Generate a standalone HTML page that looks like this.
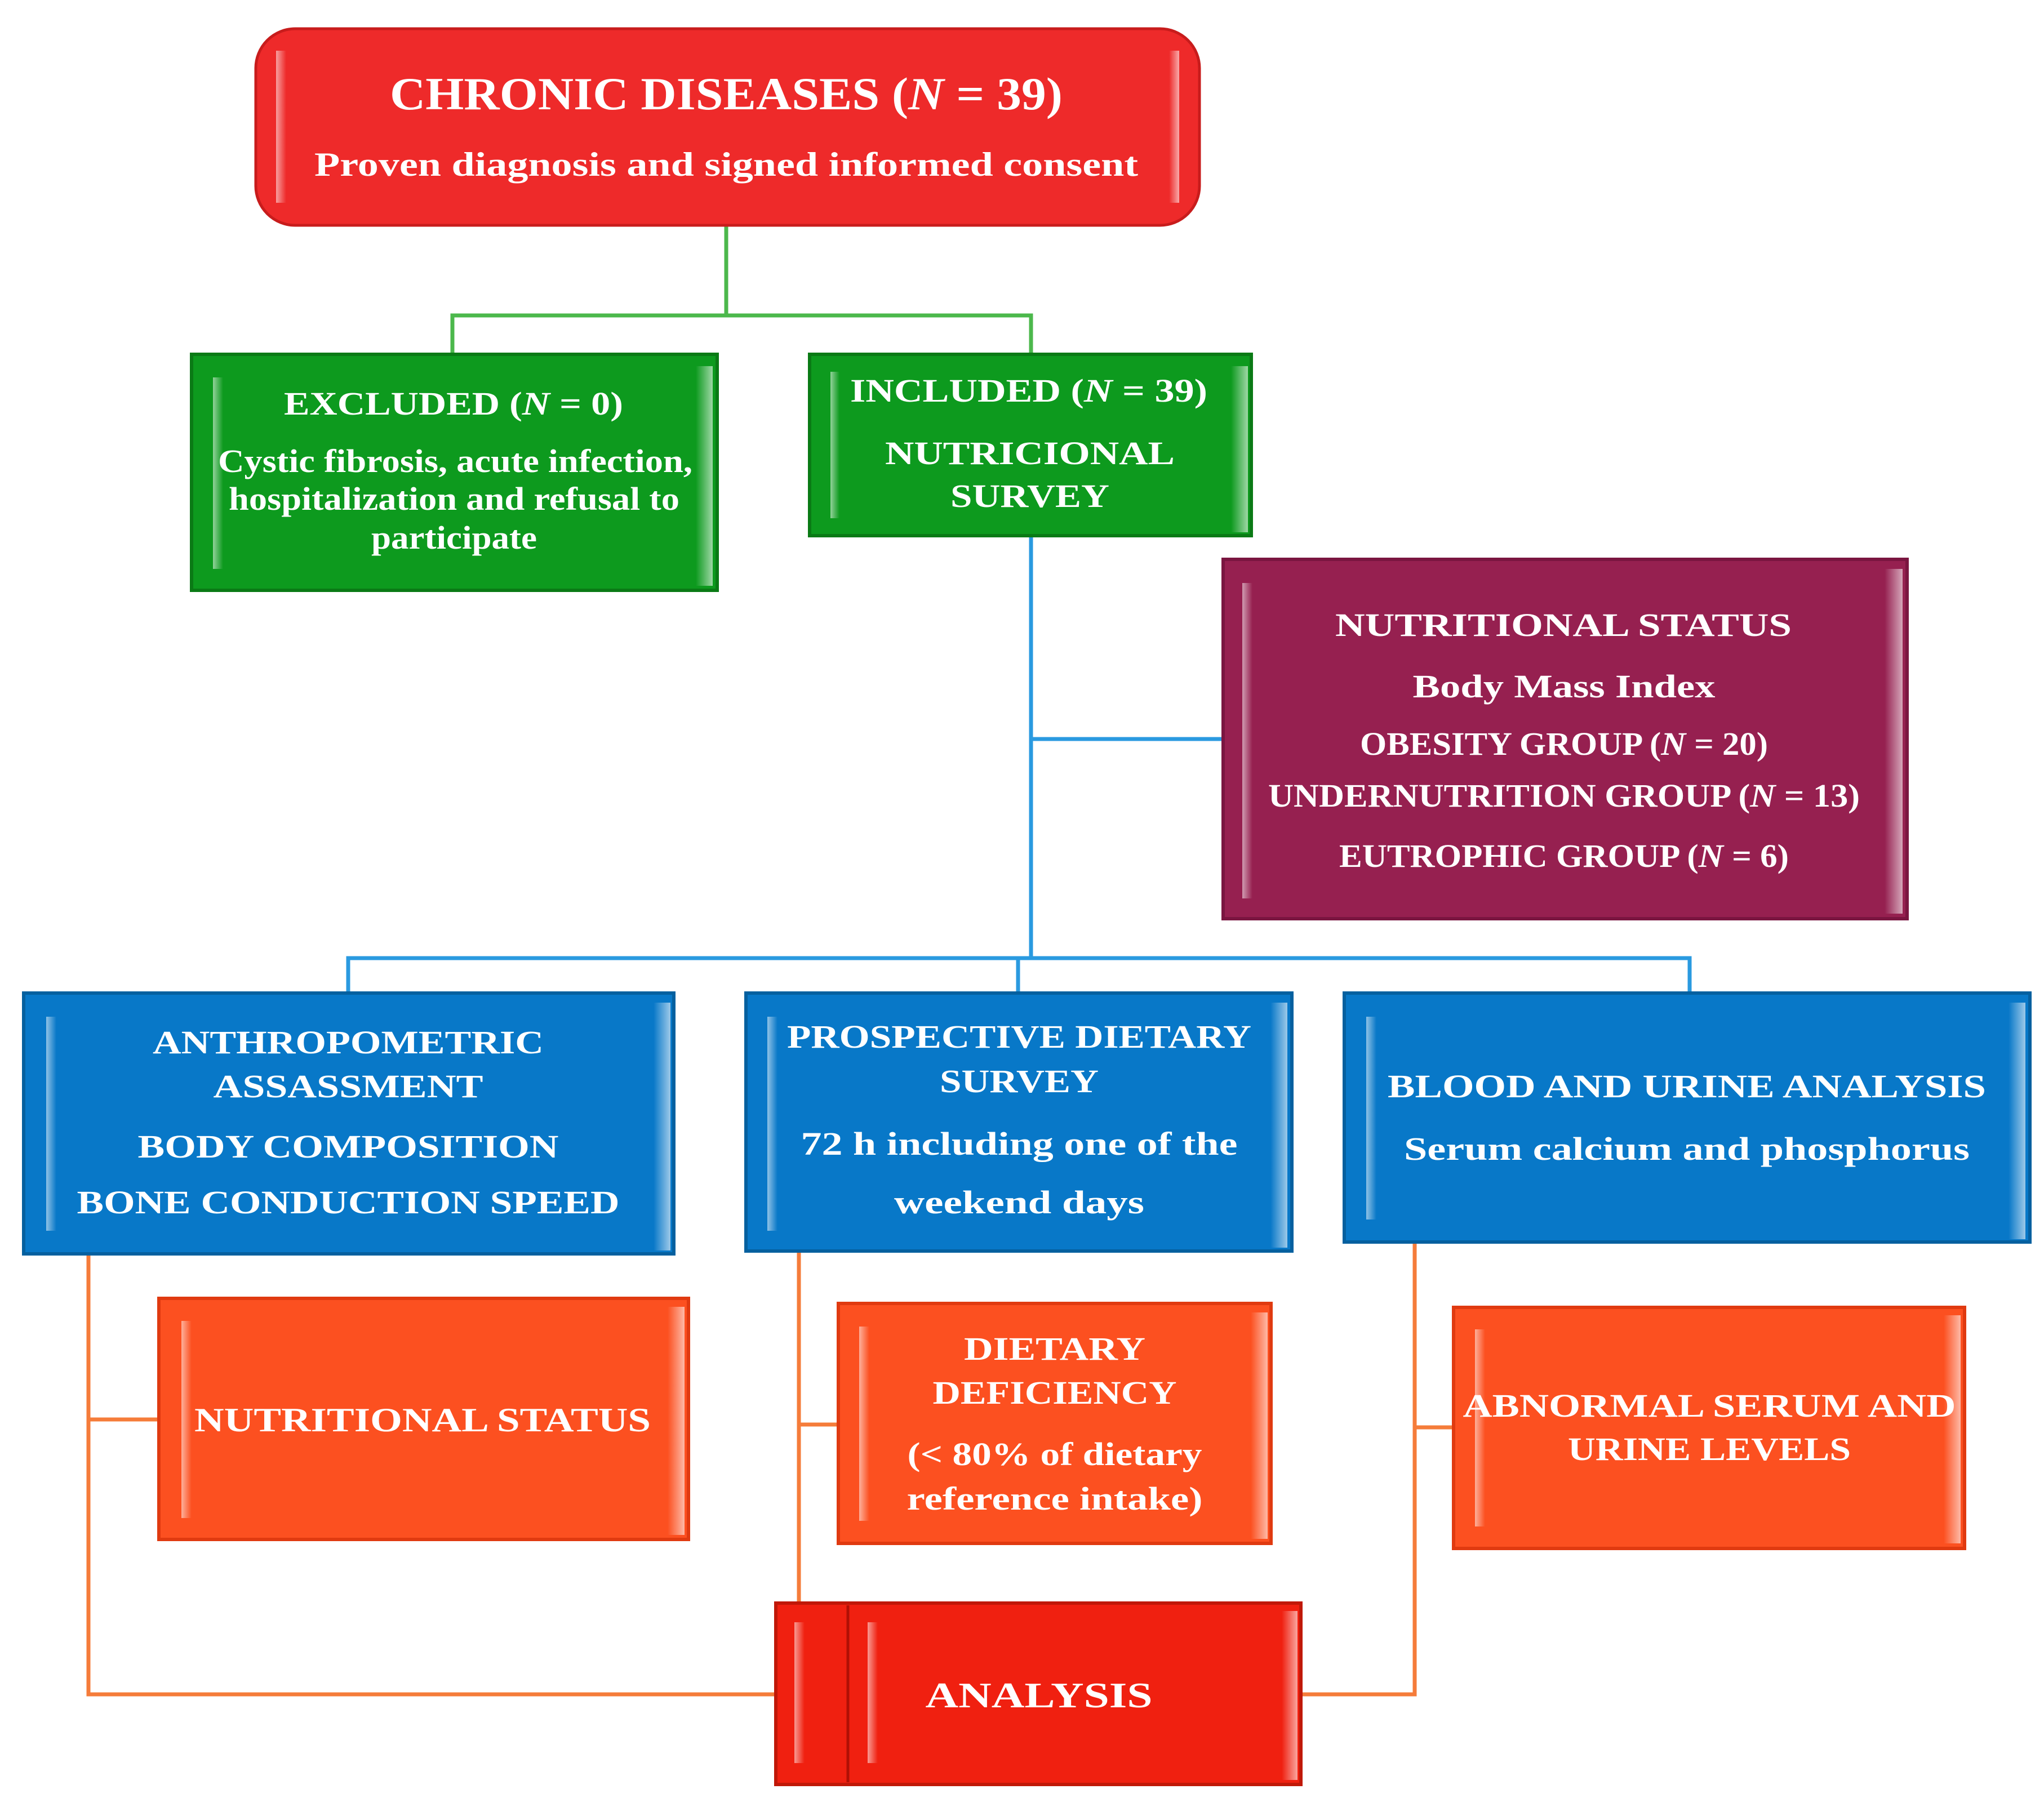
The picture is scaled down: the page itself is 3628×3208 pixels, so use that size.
<!DOCTYPE html>
<html><head><meta charset="utf-8"><style>
html,body{margin:0;padding:0;background:#fff}
svg{display:block}
text{font-family:"Liberation Serif",serif;font-weight:bold;fill:#fff;text-anchor:middle}
</style></head><body>
<svg width="3628" height="3208" viewBox="0 0 3628 3208" xmlns="http://www.w3.org/2000/svg">
<defs>
<linearGradient id="bevL" x1="0" x2="1" y1="0" y2="0"><stop offset="0" stop-color="#fff" stop-opacity="0.55"/><stop offset="1" stop-color="#fff" stop-opacity="0"/></linearGradient>
<linearGradient id="bevR" x1="1" x2="0" y1="0" y2="0"><stop offset="0" stop-color="#fff" stop-opacity="0.6"/><stop offset="1" stop-color="#fff" stop-opacity="0"/></linearGradient>
</defs>

<!-- connectors -->
<g fill="none" stroke-width="7">
<path d="M1289 400 V560 M803 629 V560 H1830 V629" stroke="#4cb84c"/>
<path d="M1830 951 V1701 M1830 1312 H2171 M618 1763 V1701 H2999 V1763 M1807 1701 V1763" stroke="#2a9ae0"/>
<path d="M157 2226 V3008 H1377 M157 2520 H282 M1418 2221 V2846 M1418 2529 H1488 M2511 2205 V3008 H2309 M2511 2534 H2580" stroke="#f57c3a"/>
</g>

<!-- top red -->
<rect x="454" y="51" width="1675" height="349" rx="70" fill="#ee2a2a" stroke="#c81c1c" stroke-width="5"/>
<rect x="490" y="90" width="18" height="270" fill="url(#bevL)"/>
<rect x="2075" y="90" width="18" height="270" fill="url(#bevR)"/>

<!-- boxes -->
<g stroke-width="6">
<rect x="340" y="629" width="933" height="419" fill="#0d9a1e" stroke="#0a7a15"/>
<rect x="1437" y="629" width="784" height="322" fill="#0d9a1e" stroke="#0a7a15"/>
<rect x="2171" y="993" width="1214" height="638" fill="#962050" stroke="#7a1540"/>
<rect x="42" y="1763" width="1154" height="463" fill="#0878c8" stroke="#05609f"/>
<rect x="1324" y="1763" width="969" height="458" fill="#0878c8" stroke="#05609f"/>
<rect x="2386" y="1763" width="1217" height="442" fill="#0878c8" stroke="#05609f"/>
<rect x="282" y="2305" width="940" height="428" fill="#fc5020" stroke="#e03a10"/>
<rect x="1488" y="2314" width="768" height="426" fill="#fc5020" stroke="#e03a10"/>
<rect x="2580" y="2321" width="907" height="428" fill="#fc5020" stroke="#e03a10"/>
<rect x="1377" y="2846" width="932" height="322" fill="#f02010" stroke="#c01808"/>
</g>
<line x1="1505" y1="2850" x2="1505" y2="3164" stroke="#b01005" stroke-width="5"/>

<!-- bevels -->
<g>
<rect x="378" y="670" width="18" height="340" fill="url(#bevL)"/><rect x="1235" y="650" width="30" height="390" fill="url(#bevR)"/>
<rect x="1474" y="660" width="16" height="260" fill="url(#bevL)"/><rect x="2185" y="650" width="30" height="295" fill="url(#bevR)"/>
<rect x="2205" y="1035" width="18" height="560" fill="url(#bevL)"/><rect x="3345" y="1010" width="32" height="612" fill="url(#bevR)"/>
<rect x="82" y="1805" width="18" height="380" fill="url(#bevL)"/><rect x="1160" y="1780" width="30" height="440" fill="url(#bevR)"/>
<rect x="1362" y="1805" width="18" height="380" fill="url(#bevL)"/><rect x="2255" y="1780" width="30" height="435" fill="url(#bevR)"/>
<rect x="2425" y="1805" width="18" height="360" fill="url(#bevL)"/><rect x="3565" y="1780" width="30" height="420" fill="url(#bevR)"/>
<rect x="322" y="2345" width="18" height="350" fill="url(#bevL)"/><rect x="1185" y="2320" width="30" height="405" fill="url(#bevR)"/>
<rect x="1525" y="2355" width="18" height="345" fill="url(#bevL)"/><rect x="2220" y="2330" width="30" height="402" fill="url(#bevR)"/>
<rect x="2618" y="2360" width="18" height="350" fill="url(#bevL)"/><rect x="3450" y="2335" width="30" height="405" fill="url(#bevR)"/>
<rect x="1410" y="2880" width="18" height="250" fill="url(#bevL)"/><rect x="1540" y="2880" width="18" height="250" fill="url(#bevL)"/><rect x="2275" y="2860" width="28" height="300" fill="url(#bevR)"/>
</g>

<!-- text -->
<g lengthAdjust="spacingAndGlyphs">
<text x="1289" y="194" font-size="82" textLength="1194" lengthAdjust="spacingAndGlyphs">CHRONIC DISEASES (<tspan font-style="italic">N</tspan> = 39)</text>
<text x="1289" y="312" font-size="60" textLength="1462" lengthAdjust="spacingAndGlyphs">Proven diagnosis and signed informed consent</text>

<text x="805" y="736" font-size="58" textLength="602" lengthAdjust="spacingAndGlyphs">EXCLUDED (<tspan font-style="italic">N</tspan> = 0)</text>
<text x="808" y="838" font-size="58" textLength="842" lengthAdjust="spacingAndGlyphs">Cystic fibrosis, acute infection,</text>
<text x="806" y="905" font-size="58" textLength="800" lengthAdjust="spacingAndGlyphs">hospitalization and refusal to</text>
<text x="806" y="974" font-size="58" textLength="294" lengthAdjust="spacingAndGlyphs">participate</text>

<text x="1826" y="713" font-size="58" textLength="634" lengthAdjust="spacingAndGlyphs">INCLUDED (<tspan font-style="italic">N</tspan> = 39)</text>
<text x="1828" y="824" font-size="58" textLength="514" lengthAdjust="spacingAndGlyphs">NUTRICIONAL</text>
<text x="1828" y="900" font-size="58" textLength="282" lengthAdjust="spacingAndGlyphs">SURVEY</text>

<text x="2775" y="1129" font-size="58" textLength="810" lengthAdjust="spacingAndGlyphs">NUTRITIONAL STATUS</text>
<text x="2776" y="1238" font-size="58" textLength="537" lengthAdjust="spacingAndGlyphs">Body Mass Index</text>
<text x="2776" y="1340" font-size="58" textLength="724" lengthAdjust="spacingAndGlyphs">OBESITY GROUP (<tspan font-style="italic">N</tspan> = 20)</text>
<text x="2776" y="1432" font-size="58" textLength="1050" lengthAdjust="spacingAndGlyphs">UNDERNUTRITION GROUP (<tspan font-style="italic">N</tspan> = 13)</text>
<text x="2776" y="1539" font-size="58" textLength="798" lengthAdjust="spacingAndGlyphs">EUTROPHIC GROUP (<tspan font-style="italic">N</tspan> = 6)</text>

<text x="618" y="1870" font-size="58" textLength="694" lengthAdjust="spacingAndGlyphs">ANTHROPOMETRIC</text>
<text x="618" y="1948" font-size="58" textLength="479" lengthAdjust="spacingAndGlyphs">ASSASSMENT</text>
<text x="618" y="2055" font-size="58" textLength="747" lengthAdjust="spacingAndGlyphs">BODY COMPOSITION</text>
<text x="618" y="2154" font-size="58" textLength="963" lengthAdjust="spacingAndGlyphs">BONE CONDUCTION SPEED</text>

<text x="1809" y="1860" font-size="58" textLength="824" lengthAdjust="spacingAndGlyphs">PROSPECTIVE DIETARY</text>
<text x="1809" y="1939" font-size="58" textLength="282" lengthAdjust="spacingAndGlyphs">SURVEY</text>
<text x="1809" y="2050" font-size="58" textLength="775" lengthAdjust="spacingAndGlyphs">72 h including one of the</text>
<text x="1809" y="2154" font-size="58" textLength="444" lengthAdjust="spacingAndGlyphs">weekend days</text>

<text x="2994" y="1948" font-size="58" textLength="1062" lengthAdjust="spacingAndGlyphs">BLOOD AND URINE ANALYSIS</text>
<text x="2994" y="2059" font-size="58" textLength="1004" lengthAdjust="spacingAndGlyphs">Serum  calcium and phosphorus</text>

<text x="750" y="2541" font-size="60" textLength="810" lengthAdjust="spacingAndGlyphs">NUTRITIONAL STATUS</text>

<text x="1872" y="2414" font-size="58" textLength="322" lengthAdjust="spacingAndGlyphs">DIETARY</text>
<text x="1872" y="2492" font-size="58" textLength="433" lengthAdjust="spacingAndGlyphs">DEFICIENCY</text>
<text x="1872" y="2601" font-size="58" textLength="523" lengthAdjust="spacingAndGlyphs">(&lt; 80% of dietary</text>
<text x="1872" y="2680" font-size="58" textLength="525" lengthAdjust="spacingAndGlyphs">reference intake)</text>

<text x="3034" y="2515" font-size="58" textLength="875" lengthAdjust="spacingAndGlyphs">ABNORMAL SERUM AND</text>
<text x="3034" y="2592" font-size="58" textLength="502" lengthAdjust="spacingAndGlyphs">URINE LEVELS</text>

<text x="1844" y="3031" font-size="64" textLength="403" lengthAdjust="spacingAndGlyphs">ANALYSIS</text>
</g>
</svg>
</body></html>
